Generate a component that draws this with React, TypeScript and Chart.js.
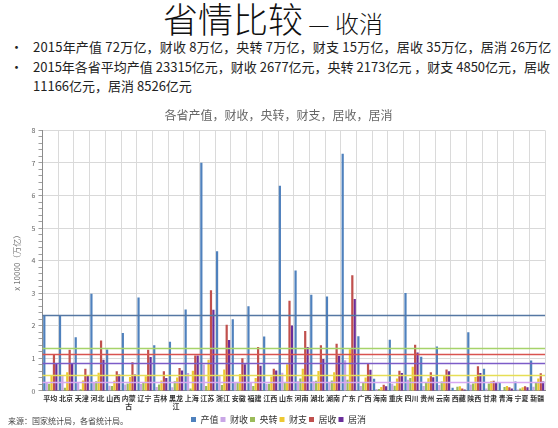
import React, { useEffect, useRef } from "react";
import { Chart, registerables } from "chart.js";

Chart.register(...registerables);

const categories: (string | string[])[] = [
  "平均", "北京", "天津", "河北", "山西", ["内蒙", "古"], "辽宁", "吉林", ["黑龙", "江"], "上海",
  "江苏", "浙江", "安徽", "福建", "江西", "山东", "河南", "湖北", "湖南", "广东",
  "广西", "海南", "重庆", "四川", "贵州", "云南", "西藏", "陕西", "甘肃", "青海", "宁夏", "新疆",
];

const seriesNames = ["产值", "财收", "央转", "财支", "居收", "居消"];

const gdp = [2.33, 2.30, 1.65, 2.98, 1.27, 1.78, 2.87, 1.40, 1.51, 2.50, 7.01, 4.29, 2.20, 2.60, 1.67, 6.30, 3.70, 2.95, 2.90, 7.28, 1.68, 0.37, 1.57, 3.01, 1.05, 1.36, 0.10, 1.80, 0.68, 0.24, 0.29, 0.93];
const fiscalRevenue = [0.27, 0.47, 0.27, 0.26, 0.16, 0.20, 0.21, 0.12, 0.11, 0.55, 0.81, 0.48, 0.25, 0.25, 0.22, 0.56, 0.30, 0.30, 0.25, 0.94, 0.15, 0.06, 0.22, 0.34, 0.15, 0.18, 0.01, 0.20, 0.07, 0.03, 0.04, 0.13];
const centralTransfer = [0.22, 0.10, 0.05, 0.30, 0.15, 0.23, 0.24, 0.20, 0.30, 0.07, 0.15, 0.18, 0.27, 0.15, 0.22, 0.26, 0.38, 0.31, 0.32, 0.34, 0.26, 0.06, 0.16, 0.40, 0.24, 0.29, 0.13, 0.23, 0.23, 0.12, 0.07, 0.25];
const fiscalSpending = [0.49, 0.57, 0.32, 0.56, 0.31, 0.43, 0.45, 0.32, 0.41, 0.62, 0.96, 0.66, 0.52, 0.40, 0.44, 0.82, 0.68, 0.61, 0.57, 1.28, 0.41, 0.12, 0.38, 0.74, 0.39, 0.47, 0.14, 0.43, 0.30, 0.15, 0.11, 0.38];
const residentIncome = [1.12, 1.26, 0.68, 1.55, 0.60, 0.88, 1.26, 0.60, 0.70, 1.09, 3.09, 2.03, 1.00, 1.35, 0.68, 2.77, 1.84, 1.40, 1.45, 3.55, 0.85, 0.19, 0.62, 1.42, 0.57, 0.66, 0.07, 0.76, 0.31, 0.11, 0.14, 0.54];
const residentConsumption = [0.85, 0.86, 0.47, 0.96, 0.50, 0.50, 1.04, 0.40, 0.63, 1.09, 2.49, 1.56, 0.82, 0.77, 0.63, 2.01, 1.35, 0.98, 1.08, 2.82, 0.65, 0.14, 0.55, 1.18, 0.42, 0.60, 0.04, 0.55, 0.27, 0.07, 0.11, 0.29];

const averageLineValues = [2.33, 1.32, 1.12, 0.85, 0.49, 0.28];

const yTickValues = [0, 1, 2, 3, 4, 5, 6, 7, 8];

const barColors = ["#4F81BD", "#C9A6E6", "#9BBB59", "#EDC832", "#C0504D", "#6A2E9A"];
const lineColors = ["#5577A3", "#A6D36A", "#D9534F", "#7C5CC8", "#E6DE55", "#D7A8F2"];

const avgLinesPlugin = {
  id: "avgLines",
  afterDatasetsDraw(chart: any) {
    const { ctx, chartArea, scales } = chart;
    const y = scales.y;
    ctx.save();
    averageLineValues.forEach((v, i) => {
      const py = Math.round(y.getPixelForValue(v)) + 0.5;
      ctx.strokeStyle = lineColors[i];
      ctx.lineWidth = 1.6;
      ctx.beginPath();
      ctx.moveTo(chartArea.left, py);
      ctx.lineTo(chartArea.right, py);
      ctx.stroke();
    });
    ctx.restore();
  },
};

const FONT = '"Noto Sans CJK SC", "Noto Sans", sans-serif';

export default function App() {
  const canvasRef = useRef<HTMLCanvasElement | null>(null);

  useEffect(() => {
    if (!canvasRef.current) return;
    const seriesData = [gdp, fiscalRevenue, centralTransfer, fiscalSpending, residentIncome, residentConsumption];
    const chart = new Chart(canvasRef.current, {
      type: "bar",
      data: {
        labels: categories as any,
        datasets: seriesNames.map((name, i) => ({
          label: name,
          data: seriesData[i],
          backgroundColor: barColors[i],
          borderWidth: 0,
          categoryPercentage: 0.92,
          barPercentage: 0.92,
        })),
      },
      plugins: [avgLinesPlugin],
      options: {
        responsive: false,
        animation: false,
        layout: { padding: { left: 12, right: 13, top: 0, bottom: 0 } },
        plugins: {
          title: {
            display: true,
            text: "各省产值，财收，央转，财支，居收，居消",
            color: "#666666",
            font: { family: FONT, size: 12, weight: "normal" },
            padding: { top: 8, bottom: 8 },
          },
          legend: {
            position: "bottom",
            labels: {
              boxWidth: 5,
              boxHeight: 5,
              padding: 2,
              color: "#333333",
              font: { family: FONT, size: 9 },
            },
          },
          tooltip: { enabled: false },
        },
        scales: {
          x: {
            grid: { color: "#DADADA", drawTicks: false, offset: true },
            border: { color: "#8C8C8C" },
            ticks: {
              color: "#333333",
              font: { family: FONT, size: 7, weight: "bold", lineHeight: 1.15 },
              maxRotation: 0,
              minRotation: 0,
              autoSkip: false,
              padding: 3,
            },
          },
          y: {
            min: 0,
            max: 8,
            afterBuildTicks: (axis: any) => {
              const t: { value: number }[] = [];
              for (let k = 0; k <= 40; k++) t.push({ value: k / 5 });
              axis.ticks = t;
            },
            grid: {
              color: (ctx: any) => {
                const v = ctx.tick ? ctx.tick.value : 0;
                return yTickValues.some((m) => Math.abs(m - v) < 1e-6) ? "#D9D9D9" : "rgba(0,0,0,0)";
              },
              tickColor: "#A0A0A0",
              tickLength: 4,
            },
            border: { color: "#8C8C8C" },
            ticks: {
              autoSkip: false,
              color: "#666666",
              font: { family: FONT, size: 7 },
              padding: 3,
              callback: (v: any) => {
                const n = Number(v);
                const m = yTickValues.find((t) => Math.abs(t - n) < 1e-6);
                return m === undefined ? "" : String(m);
              },
            },
            title: {
              display: true,
              text: "x 10000（万亿）",
              color: "#777777",
              font: { family: FONT, size: 8 },
              padding: { top: 0, bottom: 7 },
            },
          },
        },
      },
    } as any);
    return () => chart.destroy();
  }, []);

  const bulletStyle: React.CSSProperties = {
    position: "absolute",
    left: 10,
    fontSize: 13,
    lineHeight: "19px",
    color: "#222",
    whiteSpace: "nowrap",
  };

  return (
    <div style={{ position: "fixed", left: 0, top: 0, width: 558, height: 428, background: "#fff", fontFamily: FONT, overflow: "hidden" }}>
      <div style={{ position: "absolute", left: 163, top: 0, whiteSpace: "nowrap", color: "#111", lineHeight: "36px" }}>
        <span style={{ fontSize: 35, fontWeight: 300 }}>省情比较</span>
        <span style={{ fontSize: 24, fontWeight: 300 }}> — 收消</span>
      </div>
      <div style={{ ...bulletStyle, top: 37, letterSpacing: "0.2px" }}>
        <span style={{ display: "inline-block", width: 23 }}>•</span>
        2015年产值 72万亿，财收 8万亿，央转 7万亿，财支 15万亿，居收 35万亿，居消 26万亿
      </div>
      <div style={{ ...bulletStyle, top: 57 }}>
        <span style={{ display: "inline-block", width: 23 }}>•</span>
        2015年各省平均产值 23315亿元，财收 2677亿元，央转 2173亿元 ，财支 4850亿元，居收
      </div>
      <div style={{ ...bulletStyle, top: 76, left: 33 }}>11166亿元，居消 8526亿元</div>
      <canvas ref={canvasRef} width={558} height={334} style={{ position: "absolute", left: 0, top: 100, width: 558, height: 334 }} />
      <div style={{ position: "absolute", left: 8, top: 415, fontSize: 8, color: "#444", whiteSpace: "nowrap" }}>
        来源：国家统计局，各省统计局。
      </div>
    </div>
  );
}
